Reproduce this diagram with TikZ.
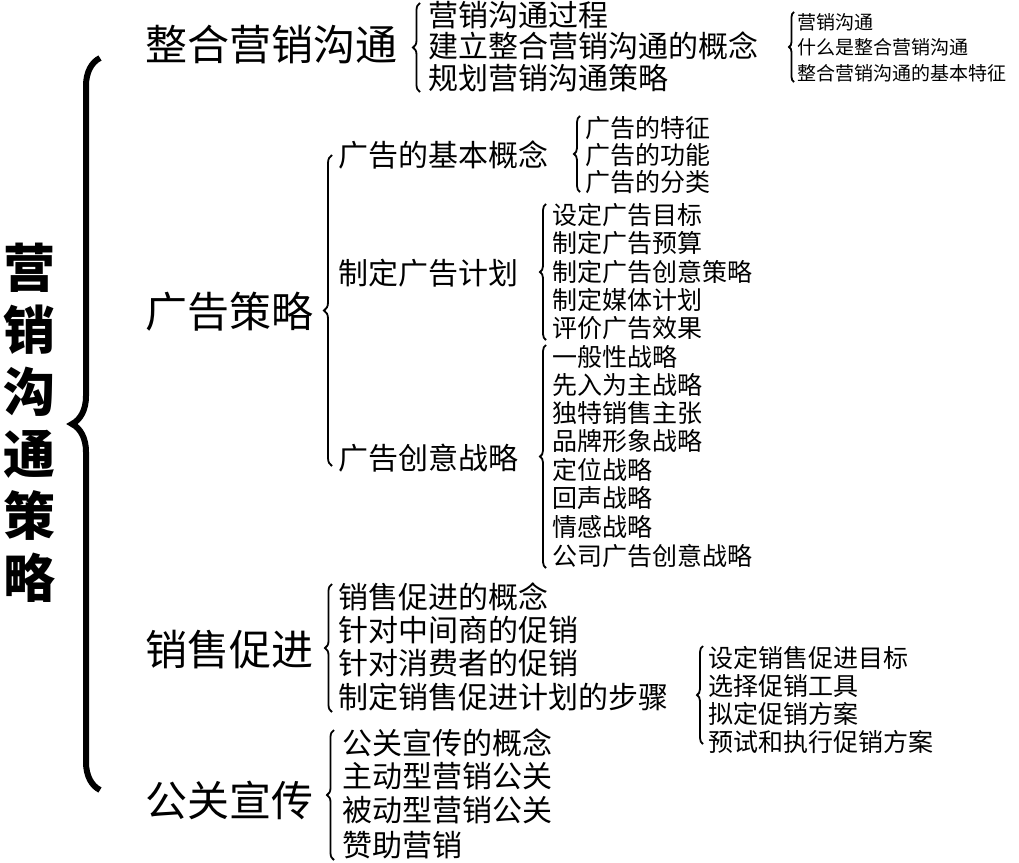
\documentclass[tikz,border=0pt]{standalone}
\usepackage{fontspec}
\setmainfont{Noto Sans CJK SC}
\usetikzlibrary{decorations.pathreplacing}
\begin{document}
\begin{tikzpicture}[x=1pt,y=-1pt,
 t/.style={anchor=west,inner sep=0pt},
 la/.style={t,font=\fontsize{42}{44}\selectfont},
 lb/.style={t,font=\fontsize{30}{32}\selectfont},
 lc/.style={t,font=\fontsize{25}{27}\selectfont},
 ld/.style={t,font=\fontsize{19}{21}\selectfont},
 br/.style={draw,line width=1.8pt,decorate,decoration={brace,amplitude=#1}},
 br/.default=7]
\useasboundingbox (0,0) rectangle (1019,862);
\node[inner sep=0pt,align=center,font=\fontsize{52}{62}\selectfont\bfseries] (title) at (30,423) {营\\销\\沟\\通\\策\\略};
\draw[line width=6pt,decorate,decoration={brace,amplitude=28pt}] (100,790) -- (100,58);
\node[la] (a1) at (145,45) {整合营销沟通};
\node[la] (a2) at (145,312) {广告策略};
\node[la] (a3) at (145,650) {销售促进};
\node[la] (a4) at (145,800) {公关宣传};
% a1
\draw[br=7] (420,92) -- (420,3);
\node[lb] (b1) at (428,15) {营销沟通过程};
\node[lb] (b2) at (428,46) {建立整合营销沟通的概念};
\node[lb] (b3) at (428,78) {规划营销沟通策略};
\draw[br=5] (794,82) -- (794,12);
\node[ld] (c1) at (797,22) {营销沟通};
\node[ld] (c2) at (797,47) {什么是整合营销沟通};
\node[ld] (c3) at (797,73) {整合营销沟通的基本特征};
% a2
\draw[br=8] (332,466) -- (332,155);
\node[lb] (b4) at (338,155) {广告的基本概念};
\node[lb] (b5) at (338,273) {制定广告计划};
\node[lb] (b6) at (338,458) {广告创意战略};
\draw[br=6] (580,192) -- (580,116);
\node[lc] (d1) at (585,128) {广告的特征};
\node[lc] (d2) at (585,155) {广告的功能};
\node[lc] (d3) at (585,182) {广告的分类};
\draw[br=6] (546,340) -- (546,204);
\node[lc] (e1) at (552,215) {设定广告目标};
\node[lc] (e2) at (552,243) {制定广告预算};
\node[lc] (e3) at (552,272) {制定广告创意策略};
\node[lc] (e4) at (552,300) {制定媒体计划};
\node[lc] (e5) at (552,328) {评价广告效果};
\draw[br=6] (546,568) -- (546,345);
\node[lc] (f1) at (552,357) {一般性战略};
\node[lc] (f2) at (552,385) {先入为主战略};
\node[lc] (f3) at (552,413) {独特销售主张};
\node[lc] (f4) at (552,441) {品牌形象战略};
\node[lc] (f5) at (552,470) {定位战略};
\node[lc] (f6) at (552,498) {回声战略};
\node[lc] (f7) at (552,527) {情感战略};
\node[lc] (f8) at (552,556) {公司广告创意战略};
% a3
\draw[br=7] (332,712) -- (332,584);
\node[lb] (g1) at (338,597) {销售促进的概念};
\node[lb] (g2) at (338,630) {针对中间商的促销};
\node[lb] (g3) at (338,663) {针对消费者的促销};
\node[lb] (g4) at (338,697) {制定销售促进计划的步骤};
\draw[br=6] (703,744) -- (703,646);
\node[lc] (h1) at (708,658) {设定销售促进目标};
\node[lc] (h2) at (708,686) {选择促销工具};
\node[lc] (h3) at (708,714) {拟定促销方案};
\node[lc] (h4) at (708,742) {预试和执行促销方案};
% a4
\draw[br=7] (334,860) -- (334,730);
\node[lb] (k1) at (342,743) {公关宣传的概念};
\node[lb] (k2) at (342,776) {主动型营销公关};
\node[lb] (k3) at (342,810) {被动型营销公关};
\node[lb] (k4) at (342,845) {赞助营销};
\end{tikzpicture}
\end{document}
